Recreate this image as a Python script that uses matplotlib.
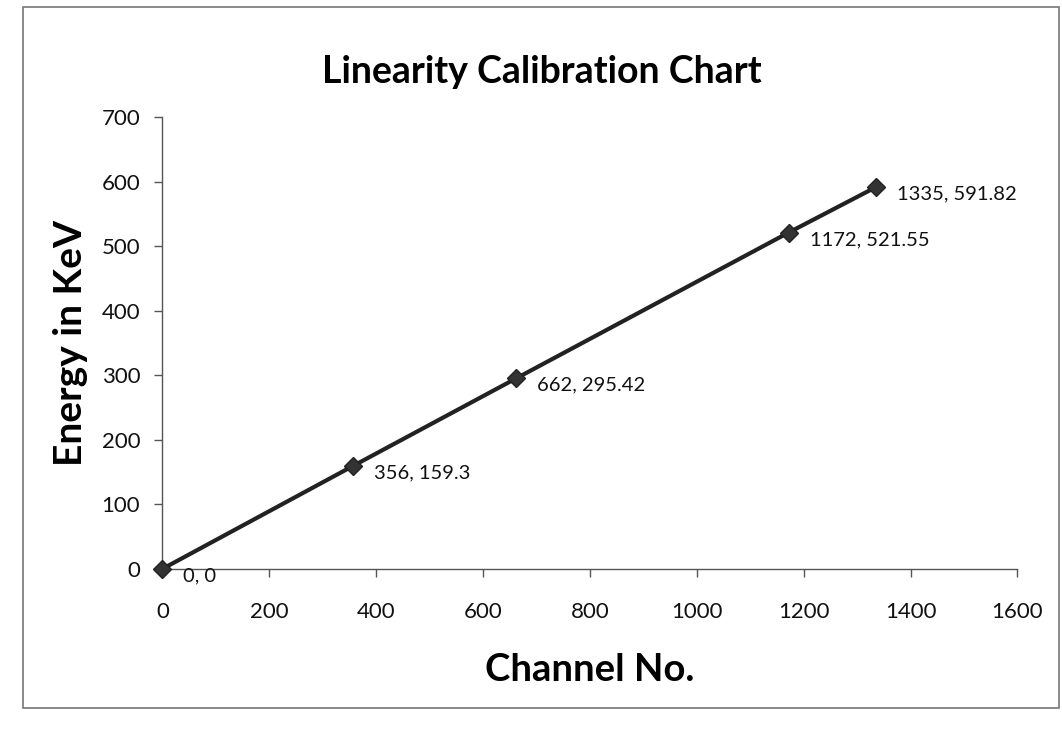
import matplotlib.pyplot as plt
from matplotlib.patches import Rectangle

channel = [0, 356, 662, 1172, 1335]
energy = [0, 159.3, 295.42, 521.55, 591.82]
point_labels = ["0, 0", "356, 159.3", "662, 295.42", "1172, 521.55", "1335, 591.82"]
x_ticks = [0, 200, 400, 600, 800, 1000, 1200, 1400, 1600]
y_ticks = [0, 100, 200, 300, 400, 500, 600, 700]

plt.rcParams['font.family'] = ['Lato', 'DejaVu Sans']

fig = plt.figure(figsize=(10.62, 7.34), dpi=100)
fig.patches.append(Rectangle((0.022, 0.035), 0.975, 0.955, transform=fig.transFigure,
                             fill=False, edgecolor='#777777', linewidth=1.2))

ax = fig.add_axes([0.153, 0.225, 0.805, 0.615])
ax.plot(channel, energy, color='#222222', linewidth=3, marker='D', markersize=9,
        markerfacecolor='#333333', markeredgecolor='#222222', zorder=3, clip_on=False)

for x, y, lab in zip(channel, energy, point_labels):
    ax.annotate(lab, (x, y), xytext=(15, -5), textcoords='offset points',
                fontsize=14.5, va='center', ha='left', color='#111111')

ax.set_xlim(0, 1600)
ax.set_ylim(0, 700)
ax.set_xticks(x_ticks)
ax.set_yticks(y_ticks)
ax.tick_params(axis='both', labelsize=16, length=6, width=1, color='#555555',
               labelcolor='#111111', pad=10)
ax.tick_params(axis='x', pad=18)
for s in ['top', 'right']:
    ax.spines[s].set_visible(False)
for s in ['left', 'bottom']:
    ax.spines[s].set_color('#555555')
    ax.spines[s].set_linewidth(1)

ax.set_xlabel("Channel No.", fontsize=27.5, fontweight='bold', labelpad=22)
ax.set_ylabel("Energy in KeV", fontsize=28, fontweight='bold', labelpad=10)
fig.text(0.51, 0.902, "Linearity Calibration Chart", fontsize=27, fontweight='bold',
         ha='center', va='center')

fig.savefig("out.png", dpi=100)
